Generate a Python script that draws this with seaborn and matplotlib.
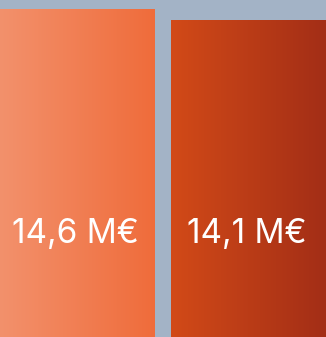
import numpy as np
import pandas as pd
import matplotlib
matplotlib.use("Agg")
import matplotlib.pyplot as plt
import seaborn as sns
from matplotlib.colors import LinearSegmentedColormap

# Values (millions of euros)
categories = ["A", "B"]
values = [14.6, 14.1]
labels = ["14,6 M€", "14,1 M€"]
gradients = [("#f3916c", "#ef6c3b"), ("#d24a18", "#a32e16")]

bg = "#a3b3c6"
df = pd.DataFrame({"cat": categories, "val": values})

fig = plt.figure(figsize=(3.26, 3.37), dpi=100)
fig.patch.set_facecolor(bg)
ax = fig.add_axes([0, 0, 1, 1])
ax.set_facecolor(bg)

sns.barplot(data=df, x="cat", y="val", ax=ax, width=0.906, color="#ef6c3b",
            saturation=1, linewidth=0)

# Horizontal gradient fill for each bar
for patch, (c0, c1) in zip(ax.patches, gradients):
    x0, y0 = patch.get_x(), patch.get_y()
    w, h = patch.get_width(), patch.get_height()
    cmap = LinearSegmentedColormap.from_list("g", [c0, c1])
    grad = np.linspace(0, 1, 256).reshape(1, -1)
    im = ax.imshow(grad, cmap=cmap, extent=[x0, x0 + w, y0, y0 + h],
                   aspect="auto", zorder=patch.get_zorder() + 0.1,
                   interpolation="bicubic")
    im.set_clip_path(patch)

for i, lab in enumerate(labels):
    ax.text(i - 0.01, 4.6, lab, ha="center", va="center", color="white",
            fontsize=24, family="Inter", zorder=5)

ax.set_xlim(-0.453, 1.453)
ax.set_ylim(0, 15.0)
ax.axis("off")
fig.savefig("out.png", dpi=100, facecolor=bg)
